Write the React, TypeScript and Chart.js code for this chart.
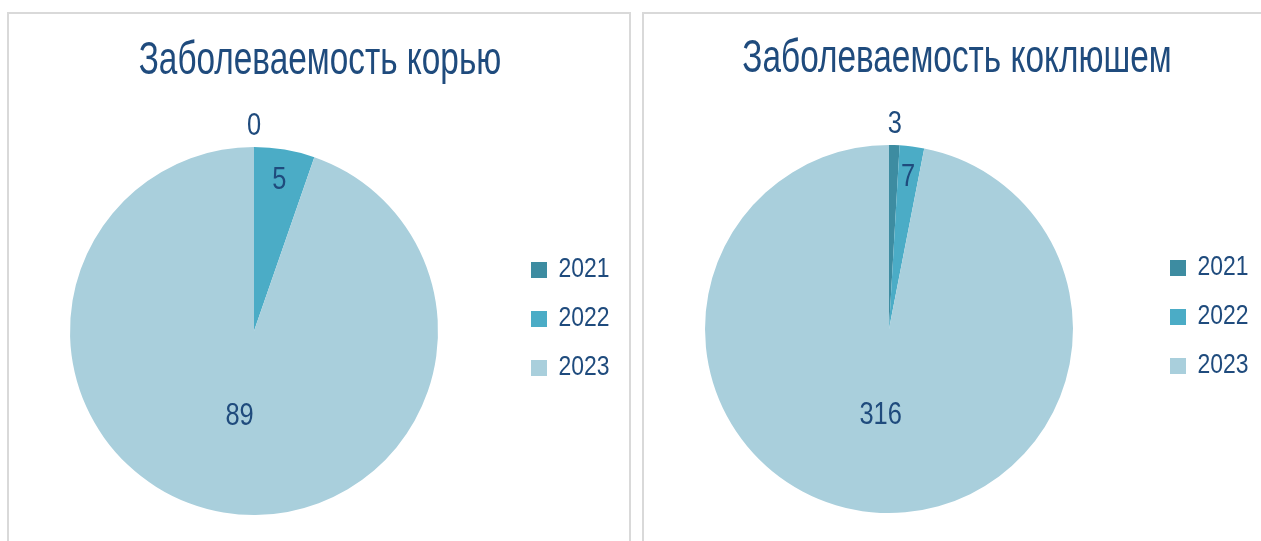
import React, { useEffect, useRef } from "react";
import { Chart, registerables } from "chart.js";

Chart.register(...registerables);

const years = ["2021", "2022", "2023"];
const measlesValues = [0, 5, 89];
const pertussisValues = [3, 7, 316];
const measlesTitle = "Заболеваемость корью";
const pertussisTitle = "Заболеваемость коклюшем";

const sliceColors = ["#3d8ca1", "#4bacc6", "#a9cfdc"];
const textColor = "#1f4b7d";
const fontFamily = "'Liberation Sans', Arial, sans-serif";

const TITLE_SCALE = 0.725;
const LEGEND_SCALE = 0.85;
const LABEL_SCALE = 0.82;

// Emulates a condensed (narrow) face by squeezing text horizontally,
// and gives the legend a fixed box width.
const narrowText = {
  id: "narrowText",
  beforeLayout(chart: any, _args: any, opts: any) {
    const lg = chart.legend;
    if (lg && !lg.__patched) {
      const origFit = lg.fit.bind(lg);
      lg.fit = () => {
        origFit();
        if (opts && opts.legendWidth) lg.width = opts.legendWidth;
      };
      const origDraw = lg.draw.bind(lg);
      lg.draw = (...a: any[]) => {
        const ctx = chart.ctx;
        const x0 = lg.left + lg.options.labels.padding;
        ctx.save();
        ctx.translate(x0, 0);
        ctx.scale(LEGEND_SCALE, 1);
        ctx.translate(-x0, 0);
        origDraw(...a);
        ctx.restore();
      };
      lg.__patched = true;
    }
    const tb = chart.titleBlock;
    if (tb && !tb.__patched) {
      const origDraw = tb.draw.bind(tb);
      tb.draw = (...a: any[]) => {
        const ctx = chart.ctx;
        const cx = (tb.left + tb.right) / 2;
        ctx.save();
        ctx.translate(cx, 0);
        ctx.scale(TITLE_SCALE, 1);
        ctx.translate(-cx, 0);
        origDraw(...a);
        ctx.restore();
      };
      tb.__patched = true;
    }
  },
};

const sliceLabels = {
  id: "sliceLabels",
  afterDatasetsDraw(chart: any) {
    const meta = chart.getDatasetMeta(0);
    const data = chart.data.datasets[0].data as number[];
    const total = data.reduce((a, b) => a + b, 0);
    const ctx = chart.ctx;
    meta.data.forEach((arc: any, i: number) => {
      const { x, y, startAngle, endAngle, outerRadius } = arc.getProps(
        ["x", "y", "startAngle", "endAngle", "outerRadius"],
        true
      );
      const mid = (startAngle + endAngle) / 2;
      const frac = data[i] / total;
      const r = frac < 0.02 ? outerRadius + 21 : frac < 0.25 ? outerRadius * 0.83 : outerRadius * 0.47;
      ctx.save();
      ctx.font = `31px ${fontFamily}`;
      ctx.fillStyle = textColor;
      ctx.textAlign = "center";
      ctx.textBaseline = "middle";
      ctx.translate(x + Math.cos(mid) * r, y + Math.sin(mid) * r);
      ctx.scale(LABEL_SCALE, 1);
      ctx.fillText(String(data[i]), 0, 0);
      ctx.restore();
    });
  },
};

type PieProps = {
  values: number[];
  title: string;
  left: number;
  top: number;
  width: number;
  height: number;
  padRight: number;
  legendWidth: number;
};

function PieChart({ values, title, left, top, width, height, padRight, legendWidth }: PieProps) {
  const ref = useRef<HTMLCanvasElement | null>(null);
  useEffect(() => {
    if (!ref.current) return;
    const chart = new Chart(ref.current, {
      type: "pie",
      data: {
        labels: years,
        datasets: [
          {
            data: values,
            backgroundColor: sliceColors,
            borderWidth: 0,
            radius: 184,
          } as any,
        ],
      },
      options: {
        responsive: false,
        animation: false,
        devicePixelRatio: 1,
        events: [],
        layout: { padding: { top: 35, left: 0, right: padRight, bottom: 0 } },
        plugins: {
          tooltip: { enabled: false },
          title: {
            display: true,
            text: title,
            color: textColor,
            font: { family: fontFamily, size: 46, weight: "normal", lineHeight: 24 / 46 },
            padding: { top: 0, bottom: 0 },
          },
          legend: {
            position: "right",
            labels: {
              color: textColor,
              font: { family: fontFamily, size: 27 },
              boxWidth: 16 / LEGEND_SCALE,
              boxHeight: 16,
              padding: 22,
            },
          },
          narrowText: { legendWidth },
        } as any,
      },
      plugins: [narrowText, sliceLabels],
    });
    return () => chart.destroy();
  }, [values, title, width, height, padRight, legendWidth]);
  return (
    <canvas
      ref={ref}
      width={width}
      height={height}
      style={{ position: "absolute", left, top, width, height, display: "block" }}
    />
  );
}

export default function App() {
  return (
    <div
      style={{
        position: "fixed",
        left: 0,
        top: 0,
        width: 1261,
        height: 541,
        overflow: "hidden",
        background: "#ffffff",
      }}
    >
      <div
        style={{
          position: "absolute",
          left: 7,
          top: 12,
          width: 624,
          height: 600,
          border: "2px solid #d9d9d9",
          boxSizing: "border-box",
        }}
      />
      <div
        style={{
          position: "absolute",
          left: 642,
          top: 12,
          width: 700,
          height: 600,
          border: "2px solid #d9d9d9",
          boxSizing: "border-box",
        }}
      />
      <PieChart
        values={measlesValues}
        title={measlesTitle}
        left={-1}
        top={14}
        width={660}
        height={575}
        padRight={18}
        legendWidth={132}
      />
      <PieChart
        values={pertussisValues}
        title={pertussisTitle}
        left={630}
        top={12}
        width={654}
        height={575}
        padRight={0}
        legendWidth={136}
      />
    </div>
  );
}
